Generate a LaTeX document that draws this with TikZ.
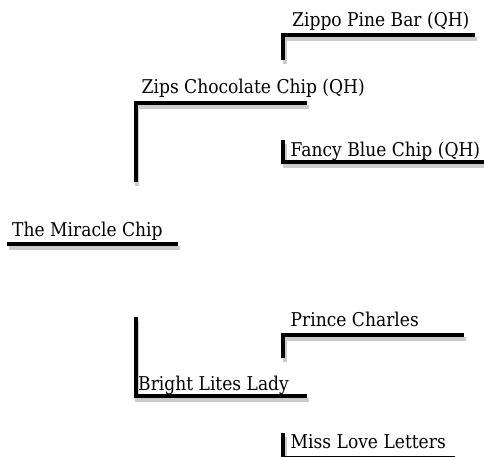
\documentclass[tikz,border=0pt]{standalone}
\usepackage{fontspec}
\setmainfont{DejaVu Serif}[FakeStretch=0.9]
\begin{document}
\begin{tikzpicture}[x=1pt,y=-1pt,
  bar/.style={line width=4pt,line join=miter,line cap=butt},
  barshadow/.style={bar,draw=black!20},
  horse/.style={anchor=base west,inner sep=0pt,font=\fontsize{19}{19}\selectfont}]
\useasboundingbox (0,0) rectangle (484,457);
\clip (0,0) rectangle (484,457);
% branch end points of the pedigree
\coordinate (m0) at (7,243.5);    \coordinate (m1) at (178,243.5);
\coordinate (s0) at (135.5,182);  \coordinate (s1) at (135.5,103.5); \coordinate (s2) at (307,103.5);
\coordinate (ss0) at (283,60);    \coordinate (ss1) at (283,35);    \coordinate (ss2) at (475,35);
\coordinate (sd0) at (283,140);   \coordinate (sd1) at (283,162);   \coordinate (sd2) at (490,162);
\coordinate (d0) at (135.5,317);  \coordinate (d1) at (135.5,396);  \coordinate (d2) at (307,396);
\coordinate (ds0) at (283,358);   \coordinate (ds1) at (283,335);   \coordinate (ds2) at (464,335);
\coordinate (dd0) at (283,433);   \coordinate (dd1) at (283,458);   \coordinate (dd2) at (455,458);
% drop shadows
\begin{scope}[transform canvas={xshift=1.5pt,yshift=-4pt}]
\draw[barshadow] (m0) -- (m1);
\draw[barshadow] (s0) -- (s1) -- (s2);
\draw[barshadow] (ss0) -- (ss1) -- (ss2);
\draw[barshadow] (sd0) -- (sd1) -- (sd2);
\draw[barshadow] (d0) -- (d1) -- (d2);
\draw[barshadow] (ds0) -- (ds1) -- (ds2);
\draw[barshadow] (dd0) -- (dd1) -- (dd2);
\end{scope}
% bars
\draw[bar] (m0) -- (m1);
\draw[bar] (s0) -- (s1) -- (s2);
\draw[bar] (ss0) -- (ss1) -- (ss2);
\draw[bar] (sd0) -- (sd1) -- (sd2);
\draw[bar] (d0) -- (d1) -- (d2);
\draw[bar] (ds0) -- (ds1) -- (ds2);
\draw[bar] (dd0) -- (dd1) -- (dd2);
% names
\node[horse] (nm)  at (12,236)    {The Miracle Chip};
\node[horse] (ns)  at (141.5,94)  {Zips Chocolate Chip (QH)};
\node[horse] (nss) at (292,27)    {Zippo Pine Bar (QH)};
\node[horse] (nsd) at (290.5,156.5) {Fancy Blue Chip (QH)};
\node[horse] (nd)  at (138,390)   {Bright Lites Lady};
\node[horse] (nds) at (290.5,326.5) {Prince Charles};
\node[horse] (ndd) at (290.5,448) {Miss Love Letters};
\end{tikzpicture}
\end{document}
